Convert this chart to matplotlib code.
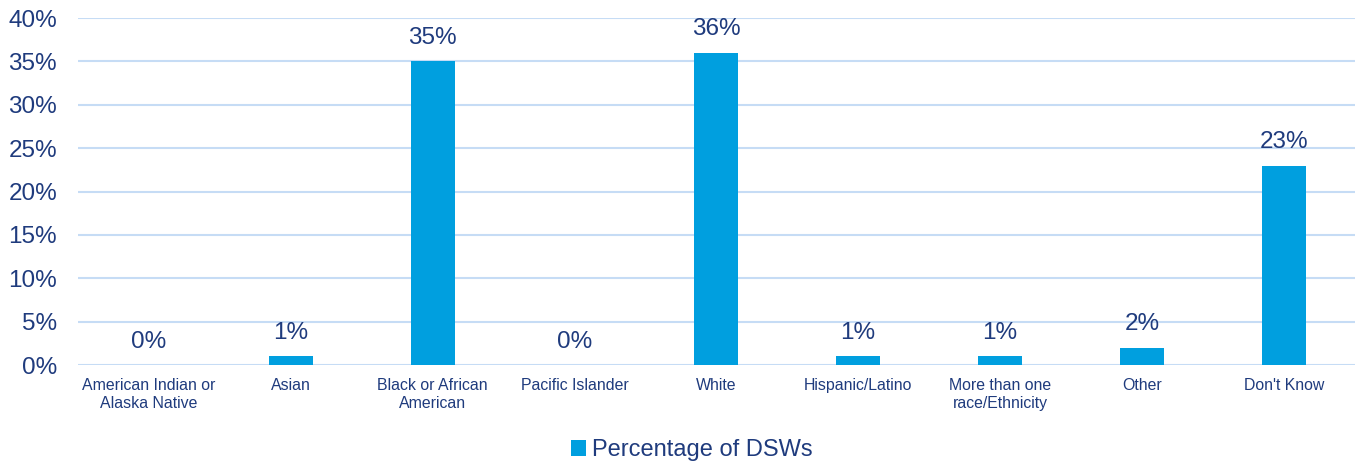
import matplotlib
matplotlib.use("Agg")
import matplotlib.pyplot as plt
import numpy as np

categories = ["American Indian or\nAlaska Native", "Asian", "Black or African\nAmerican",
              "Pacific Islander", "White", "Hispanic/Latino", "More than one\nrace/Ethnicity",
              "Other", "Don't Know"]
values = [0, 1, 35, 0, 36, 1, 1, 2, 23]
series_name = "Percentage of DSWs"
yticks = [0, 5, 10, 15, 20, 25, 30, 35, 40]

plt.rcParams['font.family'] = ['Liberation Sans', 'DejaVu Sans']
text_color = "#1F3B7D"
bar_color = "#009FDF"
grid_color = "#C6DCF5"

fig = plt.figure(figsize=(13.56, 4.65), dpi=100)
ax = fig.add_axes([0.0575, 0.215, 0.9415, 0.746])
x = np.arange(len(categories))
bars = ax.bar(x, values, width=0.31, color=bar_color, label=series_name, zorder=3)
ax.set_xlim(-0.5, len(categories) - 0.5)
ax.set_ylim(0, 40)
ax.set_yticks(yticks)
ax.set_yticklabels([f"{v}%" for v in yticks], fontsize=17.5, color=text_color)
ax.set_xticks(x)
ax.set_xticklabels(categories, fontsize=11.4, color=text_color, linespacing=1.25)
ax.tick_params(axis='both', length=0)
ax.tick_params(axis='x', pad=9)
ax.tick_params(axis='y', pad=15)
for s in ax.spines.values():
    s.set_visible(False)
ax.yaxis.grid(True, color=grid_color, linewidth=1.5, zorder=0)
ax.set_axisbelow(True)
for xi, v in zip(x, values):
    ax.annotate(f"{v}%", (xi, v), xytext=(0, 9), textcoords="offset points",
                ha="center", va="bottom", fontsize=17.5, color=text_color)
leg = fig.legend(handles=[bars], labels=[series_name], loc="center",
                 bbox_to_anchor=(0.51, 0.032), frameon=False, fontsize=17,
                 handlelength=0.65, handleheight=0.65, handletextpad=0.25)
for t in leg.get_texts():
    t.set_color(text_color)
fig.savefig("out.png", dpi=100)
